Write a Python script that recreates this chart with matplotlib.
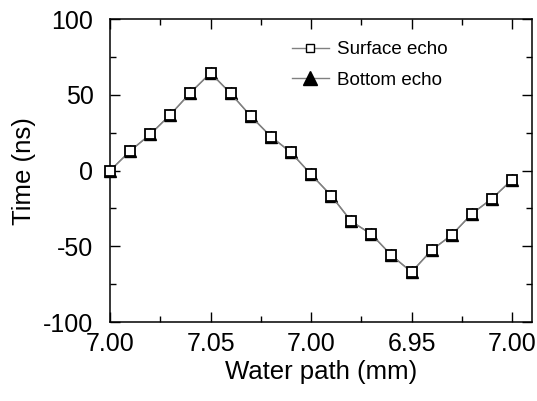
import matplotlib
matplotlib.use("Agg")
import matplotlib.pyplot as plt
from matplotlib.lines import Line2D
from matplotlib.ticker import MultipleLocator, FixedLocator, FixedFormatter

plt.rcParams["font.family"] = ["Liberation Sans", "DejaVu Sans"]
plt.rcParams["axes.unicode_minus"] = False

# scan steps of 0.01 mm: 7.00 -> 7.05 -> 6.95 -> 7.00
step = list(range(21))
surface_echo = [0, 13, 24, 37, 51.5, 64.5, 51, 36, 22.5, 12, -2.5,
                -16.5, -33.5, -42, -56, -67, -52.5, -42.5, -28.5, -18.5, -6]
bottom_echo = [0, 13, 24, 37, 51.5, 64.5, 51, 36, 22.5, 12, -2.5,
               -16.5, -33.5, -42, -56, -67, -52.5, -42.5, -28.5, -18.5, -6]
xtick_pos = [0, 5, 10, 15, 20]
xtick_labels = ["7.00", "7.05", "7.00", "6.95", "7.00"]

fig = plt.figure(figsize=(5.37, 4.01), dpi=100)
ax = fig.add_axes([0.205, 0.197, 0.786, 0.755])

ax.plot(step, bottom_echo, color="#808080", lw=1.0, marker="^", ms=9,
        mfc="black", mec="black", clip_on=False, zorder=3)
ax.plot(step, surface_echo, color="#808080", lw=1.0, marker="s", ms=6.5,
        mfc="white", mec="black", mew=1.3, clip_on=False, zorder=4)

ax.set_xlim(0, 21)
ax.set_ylim(-100, 100)
ax.xaxis.set_major_locator(FixedLocator(xtick_pos))
ax.xaxis.set_major_formatter(FixedFormatter(xtick_labels))
ax.xaxis.set_minor_locator(MultipleLocator(2.5))
ax.yaxis.set_major_locator(MultipleLocator(50))
ax.yaxis.set_minor_locator(MultipleLocator(25))

ax.tick_params(which="both", direction="in", top=True, right=True,
               width=1.0, labelsize=18)
ax.tick_params(axis="x", which="both", pad=7)
ax.tick_params(axis="y", which="both", pad=12)
ax.tick_params(which="major", length=7)
ax.tick_params(which="minor", length=4)
for s in ax.spines.values():
    s.set_linewidth(1.1)

ax.set_xlabel("Water path (mm)", fontsize=18.5, labelpad=3)
ax.set_ylabel("Time (ns)", fontsize=18.5, labelpad=5)

handles = [
    Line2D([], [], color="#808080", lw=1.0, marker="s", ms=6,
           mfc="white", mec="black", mew=1.0),
    Line2D([], [], color="#808080", lw=1.0, marker="^", ms=10.5,
           mfc="black", mec="black"),
]
ax.legend(handles, ["Surface echo", "Bottom echo"], loc="upper left",
          bbox_to_anchor=(0.408, 0.958), frameon=False, fontsize=13.5,
          borderpad=0, handlelength=2.0, handletextpad=0.4, labelspacing=0.7)

fig.savefig("out.png", dpi=100)
